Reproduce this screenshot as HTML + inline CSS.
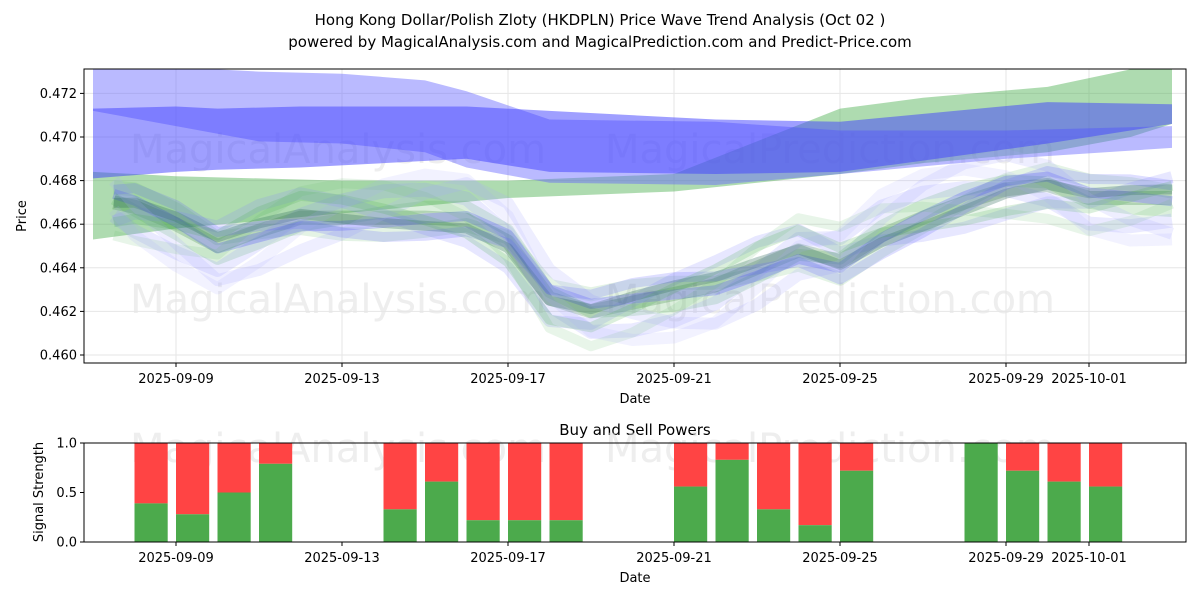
<!DOCTYPE html>
<html><head><meta charset="utf-8"><style>
body{margin:0;background:#fff;font-family:"Liberation Sans","DejaVu Sans",sans-serif}
svg text{font-family:"DejaVu Sans","Liberation Sans",sans-serif}
</style></head><body>
<svg id="c" width="1200" height="600" viewBox="0 0 1200 600">
<text x="600" y="25" text-anchor="middle" font-size="15">Hong Kong Dollar/Polish Zloty (HKDPLN) Price Wave Trend Analysis (Oct 02 )</text>
<text x="600" y="47" text-anchor="middle" font-size="15">powered by MagicalAnalysis.com and MagicalPrediction.com and Predict-Price.com</text>
<g id="topg"></g>
<g id="botg"></g>
</svg>
<script>
const priceDays=[7.5,8,9,10,11,12,13,14,15,16,17,18,19,20,21,22,23,24,25,26,27,28,29,30,31,32,33];
const priceVals=[0.4670,0.4668,0.4660,0.4650,0.4657,0.4663,0.4663,0.4663,0.4663,0.4662,0.4652,0.4626,0.4620,0.4624,0.4628,0.4632,0.4640,0.4648,0.4643,0.4655,0.4663,0.4670,0.4676,0.4678,0.4672,0.4672,0.4672];
const bandADays=[7,9,11,13,15,16,18,22,25,29,33];
const bandATop=[0.4733,0.4732,0.4730,0.4729,0.4726,0.4721,0.4708,0.4707,0.4703,0.4703,0.4705];
const bandABot=[0.4712,0.4705,0.4698,0.4697,0.4693,0.4686,0.4679,0.4678,0.4683,0.4690,0.4695];
const bandBDays=[7,9,10,12,16,18,22,25,30,33];
const bandBTop=[0.4713,0.4714,0.4713,0.4714,0.4714,0.4712,0.4708,0.4707,0.4716,0.4715];
const bandBBot=[0.4681,0.4684,0.4685,0.4686,0.4690,0.4684,0.4683,0.4684,0.4697,0.4706];
const bandGDays=[7,9,13,17,21,25,27,30,32,33];
const bandGTop=[0.4684,0.4682,0.4680,0.4680,0.4683,0.4713,0.4718,0.4723,0.4731,0.4732];
const bandGBot=[0.4653,0.4658,0.4665,0.4672,0.4675,0.4683,0.4688,0.4693,0.4700,0.4706];
const yTicks=[0.460,0.462,0.464,0.466,0.468,0.470,0.472];
const xTickDays=[9,13,17,21,25,29,31];
const xTickLabels=["2025-09-09","2025-09-13","2025-09-17","2025-09-21","2025-09-25","2025-09-29","2025-10-01"];
const barDays=[8,9,10,11,14,15,16,17,18,21,22,23,24,25,28,29,30,31];
const buyVals=[0.39,0.28,0.5,0.79,0.33,0.61,0.22,0.22,0.22,0.56,0.83,0.33,0.17,0.72,1.0,0.72,0.61,0.56];
const sigTicks=[0.0,0.5,1.0];

const NS="http://www.w3.org/2000/svg";
const X=d=>176+(d-9)*41.5;
const Y=v=>355-(v-0.460)*21800;
const YB=v=>542-v*99;
function mk(p,t,a){const e=document.createElementNS(NS,t);for(const k in a)e.setAttribute(k,a[k]);p.appendChild(e);return e;}
const topG=document.getElementById('topg'),botG=document.getElementById('botg');
const L=84,R=1186;
const defs=mk(topG,'defs',{});const cp=mk(defs,'clipPath',{id:'cp'});mk(cp,'rect',{x:L,y:69,width:R-L,height:294});
[["MagicalAnalysis.com",130,163],["MagicalPrediction.com",605,163],["MagicalAnalysis.com",130,313],["MagicalPrediction.com",605,313]].forEach(w=>{const q=mk(topG,'text',{x:w[1],y:w[2],'font-size':40,fill:'#ddd','fill-opacity':0.5});q.textContent=w[0];

});
yTicks.forEach(v=>{const l=mk(topG,'line',{x1:L,x2:R,y1:Y(v),y2:Y(v),stroke:'#e6e6e6'});

});
xTickDays.forEach(d=>{const l=mk(topG,'line',{x1:X(d),x2:X(d),y1:69,y2:363,stroke:'#e6e6e6'});

});
const gg=mk(topG,'g',{'clip-path':'url(#cp)'});
function band(days,tp,bt,col,op,name){let pts=days.map((d,i)=>X(d)+','+Y(tp[i]));for(let i=days.length-1;i>=0;i--)pts.push(X(days[i])+','+Y(bt[i]));
const p=mk(gg,'polygon',{points:pts.join(' '),fill:col,'fill-opacity':op});

}
band(bandGDays,bandGTop,bandGBot,'#4caf50',0.45,'green-trend-band');
band(bandADays,bandATop,bandABot,'#6666ff',0.45,'blue-trend-band-upper');
band(bandBDays,bandBTop,bandBBot,'#4040ff',0.5,'blue-trend-band-middle');
const waves=[[0,'#2e7d32',14,0.25],[0.0006,'#4caf50',12,0.2],[-0.0008,'#4caf50',14,0.15],[0.0012,'#8888ff',12,0.2],[-0.0013,'#8888ff',14,0.18],[0.0004,'#3a3aff',10,0.25],[-0.0004,'#2e6b5a',10,0.3],[0.0016,'#66bb6a',10,0.15],[-0.0018,'#aaaaff',12,0.2],[0.0009,'#5a5aff',10,0.2],[-0.001,'#4caf50',10,0.2],[0.002,'#aaaaff',12,0.15]];
waves.forEach((w,k)=>{const pts=priceDays.map((d,i)=>X(d)+','+Y(priceVals[i]+w[0]*Math.cos(i*0.55+k*1.3)));
const p=mk(gg,'polyline',{points:pts.join(' '),fill:'none',stroke:w[1],'stroke-width':w[2],'stroke-opacity':w[3],'stroke-linejoin':'round'});

});
mk(topG,'rect',{x:L,y:69,width:R-L,height:294,fill:'none',stroke:'#000'});
yTicks.forEach(v=>{mk(topG,'line',{x1:L-4,x2:L,y1:Y(v),y2:Y(v),stroke:'#000'});const q=mk(topG,'text',{x:L-7,y:Y(v)+4.5,'text-anchor':'end','font-size':13});q.textContent=v.toFixed(3);

});
xTickDays.forEach((d,i)=>{mk(topG,'line',{x1:X(d),x2:X(d),y1:363,y2:367,stroke:'#000'});const q=mk(topG,'text',{x:X(d),y:383,'text-anchor':'middle','font-size':13});q.textContent=xTickLabels[i];

});
let tx=mk(topG,'text',{x:635,y:403,'text-anchor':'middle','font-size':13});tx.textContent='Date';


tx=mk(topG,'text',{x:26,y:216,'text-anchor':'middle','font-size':13,transform:'rotate(-90 26 216)'});tx.textContent='Price';


tx=mk(botG,'text',{x:635,y:435,'text-anchor':'middle','font-size':15});tx.textContent='Buy and Sell Powers';


[["MagicalAnalysis.com",130,462],["MagicalPrediction.com",605,462]].forEach(w=>{const q=mk(botG,'text',{x:w[1],y:w[2],'font-size':40,fill:'#ddd','fill-opacity':0.5});q.textContent=w[0];

});
barDays.forEach((d,i)=>{const x=X(d),w=41.5*0.8;
const s=mk(botG,'rect',{x:x,y:YB(1),width:w,height:YB(buyVals[i])-YB(1),fill:'#ff4444'});


const b=mk(botG,'rect',{x:x,y:YB(buyVals[i]),width:w,height:YB(0)-YB(buyVals[i]),fill:'#4caa4c'});

});
mk(botG,'rect',{x:L,y:443,width:R-L,height:99,fill:'none',stroke:'#000'});
sigTicks.forEach(v=>{mk(botG,'line',{x1:L-4,x2:L,y1:YB(v),y2:YB(v),stroke:'#000'});const q=mk(botG,'text',{x:L-7,y:YB(v)+4.5,'text-anchor':'end','font-size':13});q.textContent=v.toFixed(1);

});
xTickDays.forEach((d,i)=>{mk(botG,'line',{x1:X(d),x2:X(d),y1:542,y2:546,stroke:'#000'});const q=mk(botG,'text',{x:X(d),y:562,'text-anchor':'middle','font-size':13});q.textContent=xTickLabels[i];

});
tx=mk(botG,'text',{x:635,y:582,'text-anchor':'middle','font-size':13});tx.textContent='Date';


tx=mk(botG,'text',{x:43,y:492,'text-anchor':'middle','font-size':13,transform:'rotate(-90 43 492)'});tx.textContent='Signal Strength';


</script>
</body></html>
